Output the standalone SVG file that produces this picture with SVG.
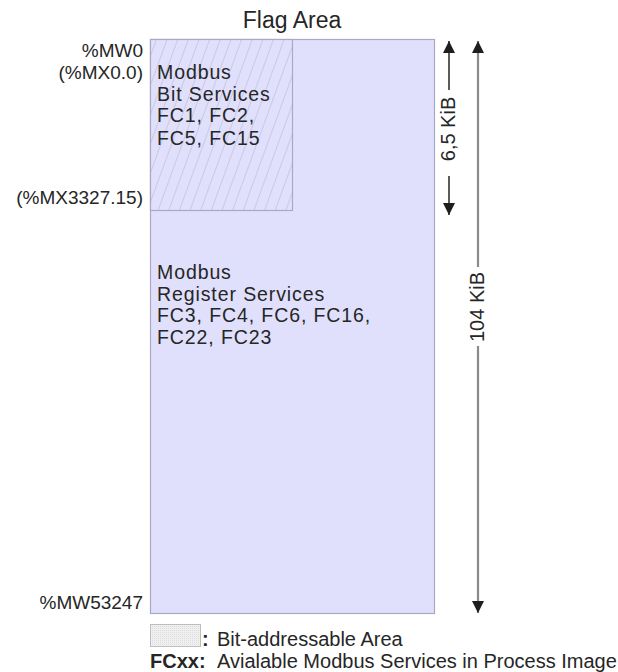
<svg xmlns="http://www.w3.org/2000/svg" width="618" height="672" viewBox="0 0 618 672">
  <style>
    text { font-family: "Liberation Sans", Arial, sans-serif; fill: #262626; }
    .title { font-size: 23px; text-anchor: middle; }
    .body { font-size: 19.5px; letter-spacing: 0.9px; }
    .addr { font-size: 19px; text-anchor: end; }
    .dim { font-size: 20px; text-anchor: middle; }
    .leg { font-size: 20px; }
    .legb { font-size: 20px; font-weight: bold; }
    .area { fill: #e0e0fc; stroke: #a9a9c6; stroke-width: 1.2; }
  </style>
  <defs>
    <pattern id="hatch" patternUnits="userSpaceOnUse" width="10" height="10" patternTransform="rotate(20)">
      <rect width="10" height="10" fill="#e0e0fc"/>
      <line x1="0" y1="0" x2="0" y2="10" stroke="#b2b2cc" stroke-width="1"/>
    </pattern>
    <pattern id="dots" patternUnits="userSpaceOnUse" width="2" height="2">
      <rect width="2" height="2" fill="#f0f0f0"/>
      <rect width="1" height="1" fill="#dcdcdc"/>
    </pattern>
    <marker id="ah" viewBox="0 0 10 10" refX="10" refY="5" markerWidth="12" markerHeight="12" markerUnits="userSpaceOnUse" orient="auto">
      <path d="M0,0 L10,5 L0,10 z" fill="#1e1e1e"/>
    </marker>
  </defs>

  <text class="title" x="292" y="28">Flag Area</text>

  <g id="flag-area">
    <rect class="area" x="150.5" y="39.5" width="284" height="574"/>
  </g>

  <g id="bit-area">
    <rect x="150.5" y="39.5" width="142" height="171" fill="url(#hatch)" stroke="#a9a9c6" stroke-width="1.2"/>
    <text class="body" x="157" y="79">Modbus</text>
    <text class="body" x="157" y="100.7">Bit Services</text>
    <text class="body" x="157" y="122.4">FC1, FC2,</text>
    <text class="body" x="157" y="144.5">FC5, FC15</text>
  </g>

  <g id="register-area">
    <text class="body" x="157" y="279">Modbus</text>
    <text class="body" x="157" y="300.7">Register Services</text>
    <text class="body" x="157" y="322.4">FC3, FC4, FC6, FC16,</text>
    <text class="body" x="157" y="344.2">FC22, FC23</text>
  </g>

  <g id="addresses">
    <text class="addr" x="143" y="57">%MW0</text>
    <text class="addr" x="143" y="79">(%MX0.0)</text>
    <text class="addr" x="143" y="204">(%MX3327.15)</text>
    <text class="addr" x="143" y="609">%MW53247</text>
  </g>

  <g id="connectors">
    <line x1="449" y1="90" x2="449" y2="41" stroke="#333" stroke-width="1.6" marker-end="url(#ah)"/>
    <line x1="449" y1="176" x2="449" y2="215" stroke="#333" stroke-width="1.6" marker-end="url(#ah)"/>
    <line x1="478" y1="267" x2="478" y2="41" stroke="#8a8a8a" stroke-width="2.2" marker-end="url(#ah)"/>
    <line x1="478" y1="346" x2="478" y2="613" stroke="#8a8a8a" stroke-width="2.2" marker-end="url(#ah)"/>
  </g>

  <g id="dimension-labels">
    <text class="dim" transform="translate(455,129) rotate(-90)">6,5 KiB</text>
    <text class="dim" transform="translate(484,307) rotate(-90)">104 KiB</text>
  </g>

  <g id="legend">
    <rect x="150.5" y="624.5" width="50" height="22" fill="url(#dots)" stroke="#bdbdbd" stroke-width="1"/>
    <text class="legb" x="202" y="646">:</text>
    <text class="leg" x="217" y="646">Bit-addressable Area</text>
    <text class="legb" x="150" y="668">FCxx:</text>
    <text class="leg" x="217" y="668">Avialable Modbus Services in Process Image</text>
  </g>
</svg>
